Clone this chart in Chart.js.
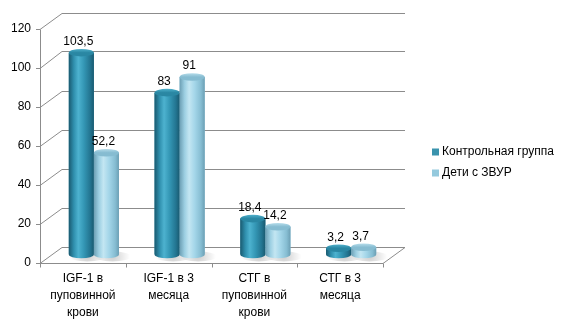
<!DOCTYPE html>
<html><head><meta charset="utf-8">
<script src="https://cdn.jsdelivr.net/npm/chart.js@4/dist/chart.umd.min.js"></script>
<style>html,body{margin:0;padding:0;background:#fff;}#wrap{width:567px;height:328px;position:relative;}</style>
</head><body><div id="wrap"><canvas id="c" width="567" height="328"></canvas></div>
<script>
const categories = [["IGF-1 в","пуповинной","крови"],["IGF-1 в 3","месяца"],["СТГ в","пуповинной","крови"],["СТГ в 3","месяца"]];
const seriesNames = ["Контрольная группа","Дети с ЗВУР"];
const controlValues = [103.5, 83, 18.4, 3.2];
const zvurValues = [52.2, 91, 14.2, 3.7];
const yTicks = [0, 20, 40, 60, 80, 100, 120];

const FONT = '12px "Liberation Sans", Arial, sans-serif';
const DX = 11, DY = 8; // half depth offset
const GRID = '#8c8c8c';
const styles = [
  {stops:[[0,'#1a5a70'],[0.2,'#2f8fad'],[0.38,'#4db2cf'],[0.6,'#3497b5'],[0.85,'#237591'],[1,'#1a5a70']], top:'#2a87a3', topRim:'#4fb0cb', legend:'#3a93ad'},
  {stops:[[0,'#6c9fb4'],[0.2,'#9ccfe2'],[0.38,'#c3e6f2'],[0.6,'#a4d6e9'],[0.85,'#86bdd2'],[1,'#6c9fb4']], top:'#86bcd1', topRim:'#b5dcea', legend:'#94c9dd'}
];

const fmt = v => String(v).replace('.', ',');

const deco = {
  id: 'deco',
  beforeDatasetsDraw(chart) {
    const ctx = chart.ctx, y = chart.scales.y, x = chart.scales.x;
    const ca = chart.chartArea;
    const fl = ca.left - DX, fr = ca.right - DX;
    const bl = ca.left + DX, br = ca.right + DX;
    ctx.save();
    ctx.strokeStyle = GRID; ctx.lineWidth = 1;
    // back wall gridlines and left slants
    yTicks.forEach(t => {
      const ym = y.getPixelForValue(t);
      const yb = Math.round(ym - DY) + 0.5, yf = Math.round(ym + DY) + 0.5;
      ctx.beginPath(); ctx.moveTo(bl, yb); ctx.lineTo(br, yb); ctx.stroke();
      ctx.beginPath(); ctx.moveTo(fl, yf); ctx.lineTo(bl, yb); ctx.stroke();
      ctx.beginPath(); ctx.moveTo(fl - 4, yf); ctx.lineTo(fl, yf); ctx.stroke();
    });
    // front value axis
    const y0f = Math.round(y.getPixelForValue(0) + DY) + 0.5;
    const ytf = Math.round(y.getPixelForValue(120) + DY) + 0.5;
    ctx.beginPath(); ctx.moveTo(Math.round(fl)+0.5, ytf); ctx.lineTo(Math.round(fl)+0.5, y0f); ctx.stroke();
    // floor front edge and right slant
    const y0b = Math.round(y.getPixelForValue(0) - DY) + 0.5;
    ctx.beginPath(); ctx.moveTo(fl, y0f); ctx.lineTo(fr, y0f); ctx.lineTo(br, y0b); ctx.stroke();
    // category ticks
    const cw = (ca.right - ca.left) / categories.length;
    for (let i = 0; i <= categories.length; i++) {
      const xx = Math.round(fl + i * cw) + 0.5;
      ctx.beginPath(); ctx.moveTo(xx, y0f); ctx.lineTo(xx, y0f + 4); ctx.stroke();
    }
    // floor shadows
    chart.data.datasets.forEach((ds, di) => {
      const meta = chart.getDatasetMeta(di);
      meta.data.forEach(el => {
        const g = ctx.createRadialGradient(el.x + 6, el.base + 2, 1, el.x + 6, el.base + 2, el.width * 0.7);
        g.addColorStop(0, 'rgba(0,0,0,0.18)'); g.addColorStop(1, 'rgba(0,0,0,0)');
        ctx.fillStyle = g;
        ctx.beginPath(); ctx.ellipse(el.x + 6, el.base + 2, el.width * 0.75, 5, 0, 0, Math.PI * 2); ctx.fill();
      });
    });
    ctx.restore();
  },
  afterDatasetsDraw(chart) {
    const ctx = chart.ctx, y = chart.scales.y, x = chart.scales.x;
    const ca = chart.chartArea;
    ctx.save();
    const n = categories.length;
    for (let i = 0; i < n; i++) {
      chart.data.datasets.forEach((ds, di) => {
        const el = chart.getDatasetMeta(di).data[i];
        const st = styles[di];
        const rx = el.width / 2, ry = 3.8, cx = el.x, top = el.y, base = el.base;
        const g = ctx.createLinearGradient(cx - rx, 0, cx + rx, 0);
        st.stops.forEach(s => g.addColorStop(s[0], s[1]));
        ctx.fillStyle = g;
        ctx.beginPath();
        ctx.moveTo(cx - rx, top);
        ctx.lineTo(cx - rx, base);
        ctx.ellipse(cx, base, rx, ry, 0, Math.PI, 0, true);
        ctx.lineTo(cx + rx, top);
        ctx.closePath();
        ctx.fill();
        const tg = ctx.createLinearGradient(0, top - ry, 0, top + ry);
        tg.addColorStop(0, st.topRim); tg.addColorStop(0.5, st.top); tg.addColorStop(1, st.top);
        ctx.fillStyle = tg;
        ctx.beginPath(); ctx.ellipse(cx, top, rx, ry, 0, 0, Math.PI * 2); ctx.fill();
        // label
        ctx.fillStyle = '#000'; ctx.font = FONT; ctx.textAlign = 'center'; ctx.textBaseline = 'middle';
        ctx.fillText(fmt(ds.data[i]), cx - 3, top - 11);
      });
    }
    // y tick labels
    ctx.fillStyle = '#000'; ctx.font = FONT; ctx.textAlign = 'right'; ctx.textBaseline = 'middle';
    yTicks.forEach(t => ctx.fillText(String(t), ca.left - DX - 9, y.getPixelForValue(t) + DY));
    // category labels
    ctx.textAlign = 'center'; ctx.textBaseline = 'middle';
    const y0f = y.getPixelForValue(0) + DY;
    categories.forEach((lines, i) => {
      const cx = x.getPixelForValue(i) - DX;
      lines.forEach((ln, k) => ctx.fillText(ln, cx, y0f + 16 + k * 17));
    });
    // legend
    ctx.textAlign = 'left';
    chart.data.datasets.forEach((ds, di) => {
      const ly = 152 + di * 21;
      ctx.fillStyle = styles[di].legend;
      ctx.fillRect(432, ly - 3.5, 7, 7);
      ctx.fillStyle = '#000';
      ctx.fillText(seriesNames[di], 442, ly);
    });
    ctx.restore();
  }
};

new Chart(document.getElementById('c'), {
  type: 'bar',
  data: {
    labels: categories.map(c => c.join(' ')),
    datasets: [
      {label: seriesNames[0], data: controlValues, backgroundColor: styles[0].legend, borderWidth: 0},
      {label: seriesNames[1], data: zvurValues, backgroundColor: styles[1].legend, borderWidth: 0}
    ]
  },
  plugins: [deco],
  options: {
    responsive: false,
    animation: false,
    events: [],
    layout: {padding: {left: 51, right: 173, top: 20.5, bottom: 73.5}},
    plugins: {legend: {display: false}, tooltip: {enabled: false}},
    datasets: {bar: {categoryPercentage: 0.585, barPercentage: 1}},
    scales: {
      x: {display: false},
      y: {display: false, min: 0, max: 120}
    }
  }
});
</script></body></html>
